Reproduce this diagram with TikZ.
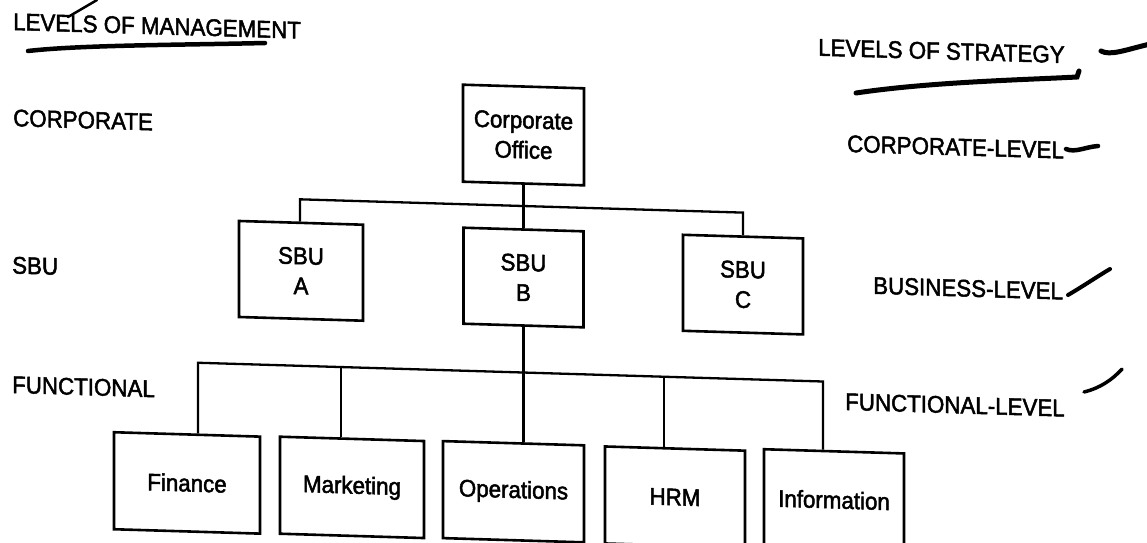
\documentclass[tikz,border=0pt]{standalone}
\usepackage{fontspec}
\setmainfont{Liberation Sans}
\newfontfamily\chartfont{Liberation Sans}[FakeBold=2, FakeStretch=0.93]
\begin{document}
\begin{tikzpicture}[x=1pt,y=-1pt,
  txt/.style={font=\chartfont\fontsize{24}{30}\selectfont, inner sep=0pt},
  box/.style={txt, draw, line width=2.6pt, align=center, minimum height=96pt},
  link/.style={line width=2.3pt},
  pen/.style={line width=4.5pt, line cap=round}]
\useasboundingbox (0,0) rectangle (1147,542);
\fill[white] (0,0) rectangle (1147,542);
\clip (0,0) rectangle (1147,542);

% the printed chart, its rows running slightly downhill to the right
\begin{scope}[cm={1,-0.03,0,1,(0pt,17.19pt)}, transform shape]
  % level labels
  \node[txt, anchor=west] (lm)  at (13,38.5)  {LEVELS OF MANAGEMENT};
  \node[txt, anchor=west] (lc)  at (13,134.7) {CORPORATE};
  \node[txt, anchor=west] (lsb) at (12,282)   {SBU};
  \node[txt, anchor=west] (lf)  at (12,401.5) {FUNCTIONAL};
  \node[txt, anchor=west] (ls)  at (818,40)   {LEVELS OF STRATEGY};
  \node[txt, anchor=west] (rc)  at (847,135.5){CORPORATE-LEVEL};
  \node[txt, anchor=west] (rb)  at (873,276.5){BUSINESS-LEVEL};
  \node[txt, anchor=west] (rf)  at (845,393.5){FUNCTIONAL-LEVEL};

  % boxes
  \node[box, minimum width=121pt, minimum height=97pt] (corp) at (523.5,136.5) {Corporate\\Office};
  \node[box, minimum width=124pt] (sbuA) at (301,279) {SBU\\A};
  \node[box, minimum width=120pt] (sbuB) at (523.5,279) {SBU\\B};
  \node[box, minimum width=120pt] (sbuC) at (743,279.5) {SBU\\C};

  \node[box, minimum width=146pt, minimum height=97pt] (fin) at (187,494.5) {Finance};
  \node[box, minimum width=144pt, minimum height=97pt] (mkt) at (352,494) {Marketing};
  \node[box, minimum width=141pt, minimum height=97pt] (ops) at (513.5,493.5) {Operations};
  \node[box, minimum width=140pt, minimum height=97pt] (hrm) at (675,494) {HRM};
  \node[box, minimum width=140pt, minimum height=97pt] (inf) at (834,492) {Information};

  % corporate office to the SBUs
  \coordinate (tb) at (300,207.5);
  \draw[link] (corp.south) -- (sbuB.north);
  \draw[link] (sbuA.north -| tb) -- (tb) -- (tb -| sbuC.north) -- (sbuC.north);

  % SBU B to the functions
  \coordinate (xf) at (198,374);
  \coordinate (xm) at (341,374);
  \coordinate (xh) at (664,374);
  \coordinate (xi) at (823,374);
  \draw[link] (sbuB.south) -- (ops.north -| sbuB.south);
  \draw[link] (fin.north -| xf) -- (xf) -- (xi) -- (inf.north -| xi);
  \draw[link] (xm) -- (mkt.north -| xm);
  \draw[link] (xh) -- (hrm.north -| xh);
\end{scope}

% pen marks
\draw[pen] (28,51) .. controls (80,45) and (180,45) .. (265,43);
\draw[line width=2.5pt, line cap=round] (68,17) -- (97,0);
\draw[pen, line width=5pt] (856,93) .. controls (930,82) and (1020,80) .. (1077,77) -- (1079,71);
\draw[pen, line width=5pt] (1101,51) .. controls (1110,56) and (1125,50) .. (1150,44);
\draw[pen] (1066,149) .. controls (1075,153) and (1085,147) .. (1098,146);
\draw[pen, line width=4pt] (1068,295) .. controls (1085,285) and (1098,276) .. (1110,269);
\draw[pen, line width=3.5pt] (1084,392) .. controls (1100,388) and (1112,380) .. (1122,369);
\end{tikzpicture}
\end{document}
